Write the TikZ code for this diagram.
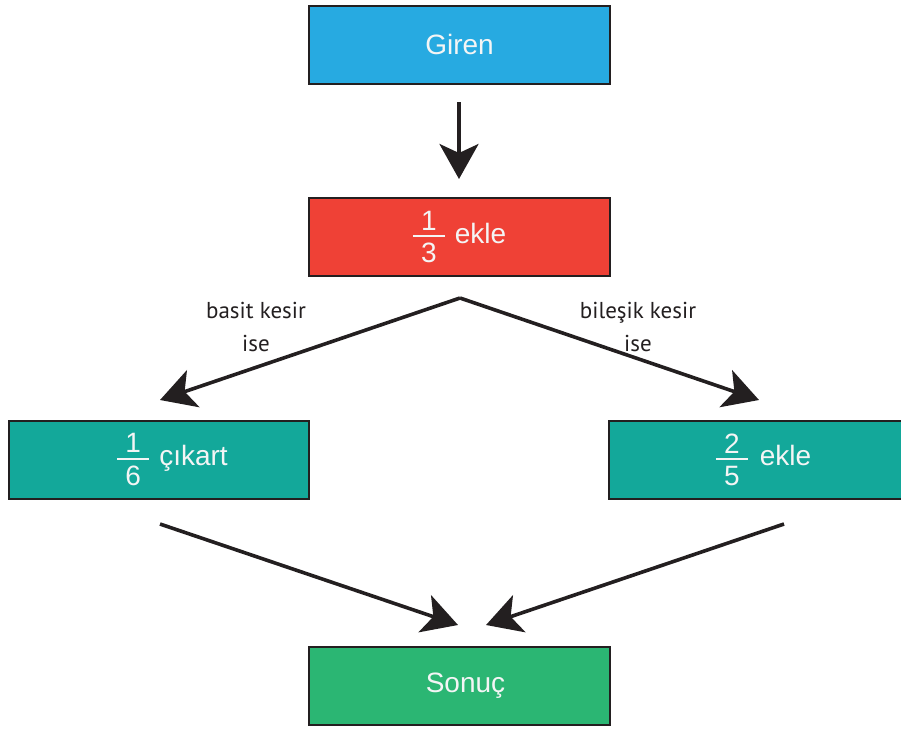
\documentclass[tikz,border=0pt]{standalone}
\usepackage{fontspec}
\setmainfont{Liberation Sans}
\newfontfamily\lblfont{PT Sans}
\usetikzlibrary{arrows.meta}

\definecolor{inkline}{HTML}{231F20}
\definecolor{paletxt}{HTML}{F4F5F5}
\definecolor{cyanbox}{HTML}{27AAE1}
\definecolor{redbox}{HTML}{EF4136}
\definecolor{tealbox}{HTML}{13A89A}
\definecolor{greenbox}{HTML}{2BB673}

% stacked fraction with full-size digits and a wide bar
\newcommand\frc[2]{\ensuremath{\vcenter{\offinterlineskip\halign{\hfil##\hfil\cr#1\cr\noalign{\kern5pt}\rule{32pt}{1.6pt}\cr\noalign{\kern6pt}#2\cr}}}}

\tikzset{
  flowbox/.style={draw=inkline, line width=2pt, minimum width=301pt,
    minimum height=78pt, inner sep=0pt, text=paletxt,
    font=\fontsize{28}{33}\selectfont},
  flowarrow/.style={draw=inkline, line width=3.6pt,
    -{Stealth[length=35pt,width=39pt,inset=9pt]}},
  caseLabel/.style={align=center, text=inkline, inner sep=0pt,
    font=\lblfont\fontsize{23}{33}\selectfont}
}

\begin{document}
\begin{tikzpicture}[x=1pt,y=-1pt]
  \useasboundingbox (0,0) rectangle (901,729);

  % boxes
  \node[flowbox, fill=cyanbox] (giren) at (459.5,44.5) {Giren};
  \node[flowbox, fill=redbox] (ekleA) at (459.5,237) {\frc{1}{3}\hspace{10pt}ekle};
  \node[flowbox, fill=tealbox, minimum width=300pt] (cikart) at (158.5,459.5)
    {\hspace{28pt}\frc{1}{6}\hspace{10pt}çıkart};
  \node[flowbox, fill=tealbox] (ekleB) at (759.5,459.5)
    {\hspace{8pt}\frc{2}{5}\hspace{12pt}ekle};
  \node[flowbox, fill=greenbox] (sonuc) at (459.5,686) {\hspace{12pt}Sonuç};

  % arrow end points
  \coordinate (a1s) at (459,102);
  \coordinate (a1e) at (459,179);
  \coordinate (apex) at (460,298);
  \coordinate (leftTip) at (160,400);
  \coordinate (rightTip) at (759,400);
  \coordinate (l2s) at (160,524);
  \coordinate (l2e) at (458,625);
  \coordinate (r2s) at (784,524);
  \coordinate (r2e) at (486,625);

  % connectors
  \draw[flowarrow] (a1s) -- (a1e);
  \draw[flowarrow] (apex) -- (leftTip);
  \draw[flowarrow] (apex) -- (rightTip);
  \draw[flowarrow] (l2s) -- (l2e);
  \draw[flowarrow] (r2s) -- (r2e);

  % branch labels (base anchor sits on the last line)
  \node[caseLabel, anchor=base] (lblL) at (256,351) {basit kesir\\ise};
  \node[caseLabel, anchor=base] (lblR) at (638,351) {bileşik kesir\\ise};
\end{tikzpicture}
\end{document}
